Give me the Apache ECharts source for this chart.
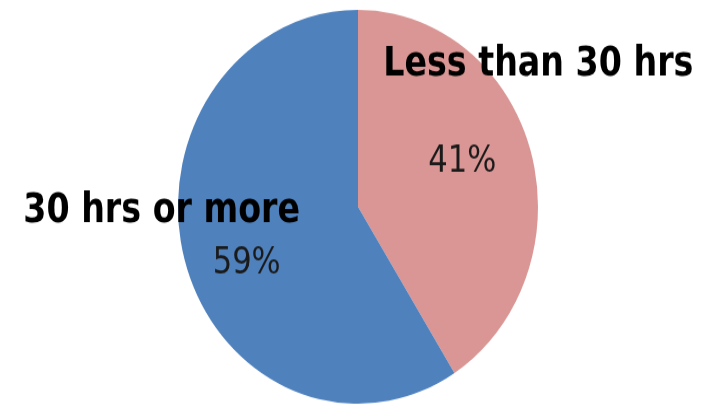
<!DOCTYPE html>
<html>
<head>
<meta charset="utf-8">
<script src="https://cdn.jsdelivr.net/npm/echarts@6/dist/echarts.min.js"></script>
<style>
  html, body { margin: 0; padding: 0; background: #fff; }
  body { width: 706px; height: 407px; overflow: hidden; }
  /* the reference pie is a little taller than wide, so stretch the whole chart */
  #chart { width: 706px; height: 372px; transform: scaleY(1.094); transform-origin: 0 0; }
</style>
</head>
<body>
<div id="chart"></div>
<script>
var categories = ['Less than 30 hrs', '30 hrs or more'];
var shares = [41, 59];
var colors = ['#D99694', '#4F81BD'];

// label nudges from the default inside spot
var pctShift = [[15, -15], [-22, 26]];
var nameShift = [[91, -104], [-107, -22]];

var data = [];
for (var i = 0; i < categories.length; i++) {
  data.push({ name: categories[i], value: shares[i], itemStyle: { color: colors[i] } });
}

var chart = echarts.init(document.getElementById('chart'));
var base = {
  type: 'pie',
  center: [358, 189],
  radius: [0, 180],
  startAngle: 90,
  clockwise: true,
  animation: false,
  silent: true,
  labelLine: { show: false },
  data: data
};

var option = {
  backgroundColor: '#fff',
  series: [
    Object.assign({}, base, {
      itemStyle: { borderWidth: 0 },
      label: {
        show: true,
        position: 'inside',
        formatter: '{d}%',
        fontFamily: 'Liberation Sans Narrow, DejaVu Sans Condensed, sans-serif',
        fontSize: 34,
        color: '#1a1a1a'
      },
      labelLayout: function (p) {
        return { dx: pctShift[p.dataIndex][0], dy: pctShift[p.dataIndex][1] };
      }
    }),
    Object.assign({}, base, {
      itemStyle: { color: 'rgba(0,0,0,0)', borderWidth: 0 },
      data: data.map(function (d) { return { name: d.name, value: d.value }; }),
      label: {
        show: true,
        position: 'inside',
        formatter: '{b}',
        fontFamily: 'Liberation Sans Narrow, DejaVu Sans Condensed, sans-serif',
        fontWeight: 'bold',
        fontSize: 37,
        color: '#000'
      },
      labelLayout: function (p) {
        return { dx: nameShift[p.dataIndex][0], dy: nameShift[p.dataIndex][1] };
      }
    })
  ]
};
chart.setOption(option);
</script>
</body>
</html>
